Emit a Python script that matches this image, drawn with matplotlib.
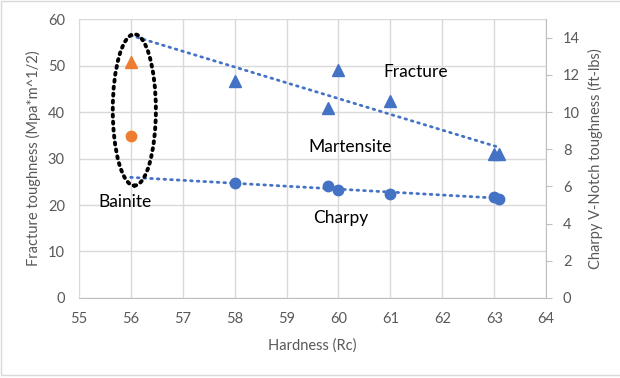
import numpy as np
import matplotlib.pyplot as plt
from matplotlib.patches import Ellipse, Rectangle

plt.rcParams['font.family'] = ['Lato', 'DejaVu Sans']

# martensite samples
hardness = [58, 59.8, 60, 61, 63, 63.1]
fracture = [46.7, 40.8, 49.0, 42.4, 31.0, 31.0]      # Mpa*m^1/2
charpy = [6.17, 6.02, 5.79, 5.58, 5.45, 5.34]        # ft-lbs

# bainite sample
bainite_hardness = [56]
bainite_fracture = [50.7]
bainite_charpy = [8.7]

x_ticks = list(range(55, 65))
left_ticks = list(range(0, 61, 10))
right_ticks = list(range(0, 15, 2))

blue = '#4472C4'
orange = '#ED7D31'
gray = '#595959'
grid = '#D9D9D9'

fig = plt.figure(figsize=(6.2, 3.78), dpi=100)
ax1 = fig.add_axes([0.127, 0.212, 0.754, 0.737])
ax2 = ax1.twinx()

# chart-area frame
fig.patches.append(Rectangle((0.002, 0.008), 1.2, 0.99, transform=fig.transFigure,
                             fill=False, edgecolor='#D9D9D9', lw=1))

# fracture toughness (left axis)
ax1.plot(hardness, fracture, '^', color=blue, ms=8, zorder=3)
ax1.plot(bainite_hardness, bainite_fracture, '^', color=orange, ms=8, zorder=3)
p = np.polyfit(hardness, fracture, 1)
xt = np.array([56, max(hardness)])
ax1.plot(xt, np.polyval(p, xt), color=blue, lw=2, linestyle=(0, (0.6, 1.8)),
         dash_capstyle='round', zorder=2)

# charpy (right axis)
ax2.plot(hardness, charpy, 'o', color=blue, ms=7.5, zorder=3)
ax2.plot(bainite_hardness, bainite_charpy, 'o', color=orange, ms=7.5, zorder=3)
q = np.polyfit(hardness, charpy, 1)
ax2.plot(xt, np.polyval(q, xt), color=blue, lw=2, linestyle=(0, (0.6, 1.8)),
         dash_capstyle='round', zorder=2)

# ring around bainite
ax2.add_patch(Ellipse((56.07, 10.12), 0.83, 8.15, fill=False, edgecolor='black',
                      lw=2.8, linestyle=(0, (0.5, 1.3)), capstyle='round', zorder=4))

ax1.set_xlim(55, 64)
ax1.set_ylim(0, 60)
ax2.set_ylim(0, 15)
ax1.set_xticks(x_ticks)
ax1.set_yticks(left_ticks)
ax2.set_yticks(right_ticks)

ax1.grid(True, color=grid, lw=1)
ax1.set_axisbelow(True)
for ax in (ax1, ax2):
    for s in ax.spines.values():
        s.set_visible(False)
ax2.spines['right'].set_visible(True)
ax2.spines['right'].set_color('#BFBFBF')
ax1.spines['bottom'].set_visible(True)
ax1.spines['bottom'].set_color('#BFBFBF')

ax1.tick_params(axis='both', length=0, labelsize=10.5, labelcolor=gray, pad=10)
ax1.tick_params(axis='y', pad=10)
ax2.tick_params(axis='y', length=4, color='#BFBFBF', labelsize=10.5, labelcolor=gray, pad=8)

ax1.set_xlabel('Hardness (Rc)', fontsize=10.5, color=gray, labelpad=9)
ax1.set_ylabel('Fracture toughness (Mpa*m^1/2)', fontsize=10.5, color=gray, labelpad=5)
ax2.set_ylabel('Charpy V-Notch toughness (ft-lbs)', fontsize=10.5, color=gray, labelpad=6)

# region labels
for txt, x, y in [('Fracture', 61.48, 48.7), ('Martensite', 60.23, 32.5),
                  ('Bainite', 55.89, 20.6), ('Charpy', 60.04, 17.1)]:
    ax1.text(x, y, txt, ha='center', va='center', fontsize=12.5, color='black')

fig.savefig('out.png', dpi=100)
